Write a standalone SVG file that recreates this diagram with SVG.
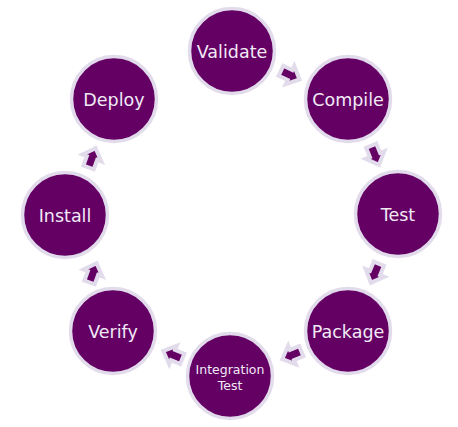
<svg xmlns="http://www.w3.org/2000/svg" width="458" height="427" viewBox="0 0 458 427">
<style>
.node circle{fill:#640064;stroke:#e2dbeb;stroke-width:3.5}
.node text{fill:#f1eaf6;font-family:"DejaVu Sans",sans-serif;font-size:17.5px;text-anchor:middle}
.node text.small{font-size:12.5px}
.arrow{fill:#640064;stroke:#e2dbeb;stroke-width:4;stroke-linejoin:miter}
</style>
<defs>
<path id="arr" d="M-10,-5.5 L0,-5.5 L0,-10 L10.5,0 L0,10 L0,5.5 L-10,5.5 Z"/>
</defs>
<rect width="458" height="427" fill="#ffffff"/>
<g id="connectors">
<use href="#arr" class="arrow" transform="translate(290,75) rotate(25)"/>
<use href="#arr" class="arrow" transform="translate(375,155) rotate(68)"/>
<use href="#arr" class="arrow" transform="translate(375,273) rotate(112.5)"/>
<use href="#arr" class="arrow" transform="translate(292,355) rotate(157.5)"/>
<use href="#arr" class="arrow" transform="translate(173,355) rotate(202.5)"/>
<use href="#arr" class="arrow" transform="translate(93,273) rotate(290)"/>
<use href="#arr" class="arrow" transform="translate(92,158) rotate(290)"/>
</g>
<g id="validate" class="node"><circle cx="232" cy="51" r="42.5"/><text x="232" y="58">Validate</text></g>
<g id="compile" class="node"><circle cx="348" cy="99" r="42.5"/><text x="348" y="106">Compile</text></g>
<g id="test" class="node"><circle cx="398" cy="214" r="42.5"/><text x="398" y="221">Test</text></g>
<g id="package" class="node"><circle cx="348" cy="331" r="42.5"/><text x="348" y="338">Package</text></g>
<g id="integration-test" class="node"><circle cx="230" cy="376" r="42.5"/><text class="small" x="230" y="374">Integration</text><text class="small" x="230" y="390">Test</text></g>
<g id="verify" class="node"><circle cx="113" cy="331" r="42.5"/><text x="113" y="338">Verify</text></g>
<g id="install" class="node"><circle cx="65" cy="215" r="42.5"/><text x="65" y="222">Install</text></g>
<g id="deploy" class="node"><circle cx="114" cy="99" r="42.5"/><text x="114" y="106">Deploy</text></g>
</svg>
